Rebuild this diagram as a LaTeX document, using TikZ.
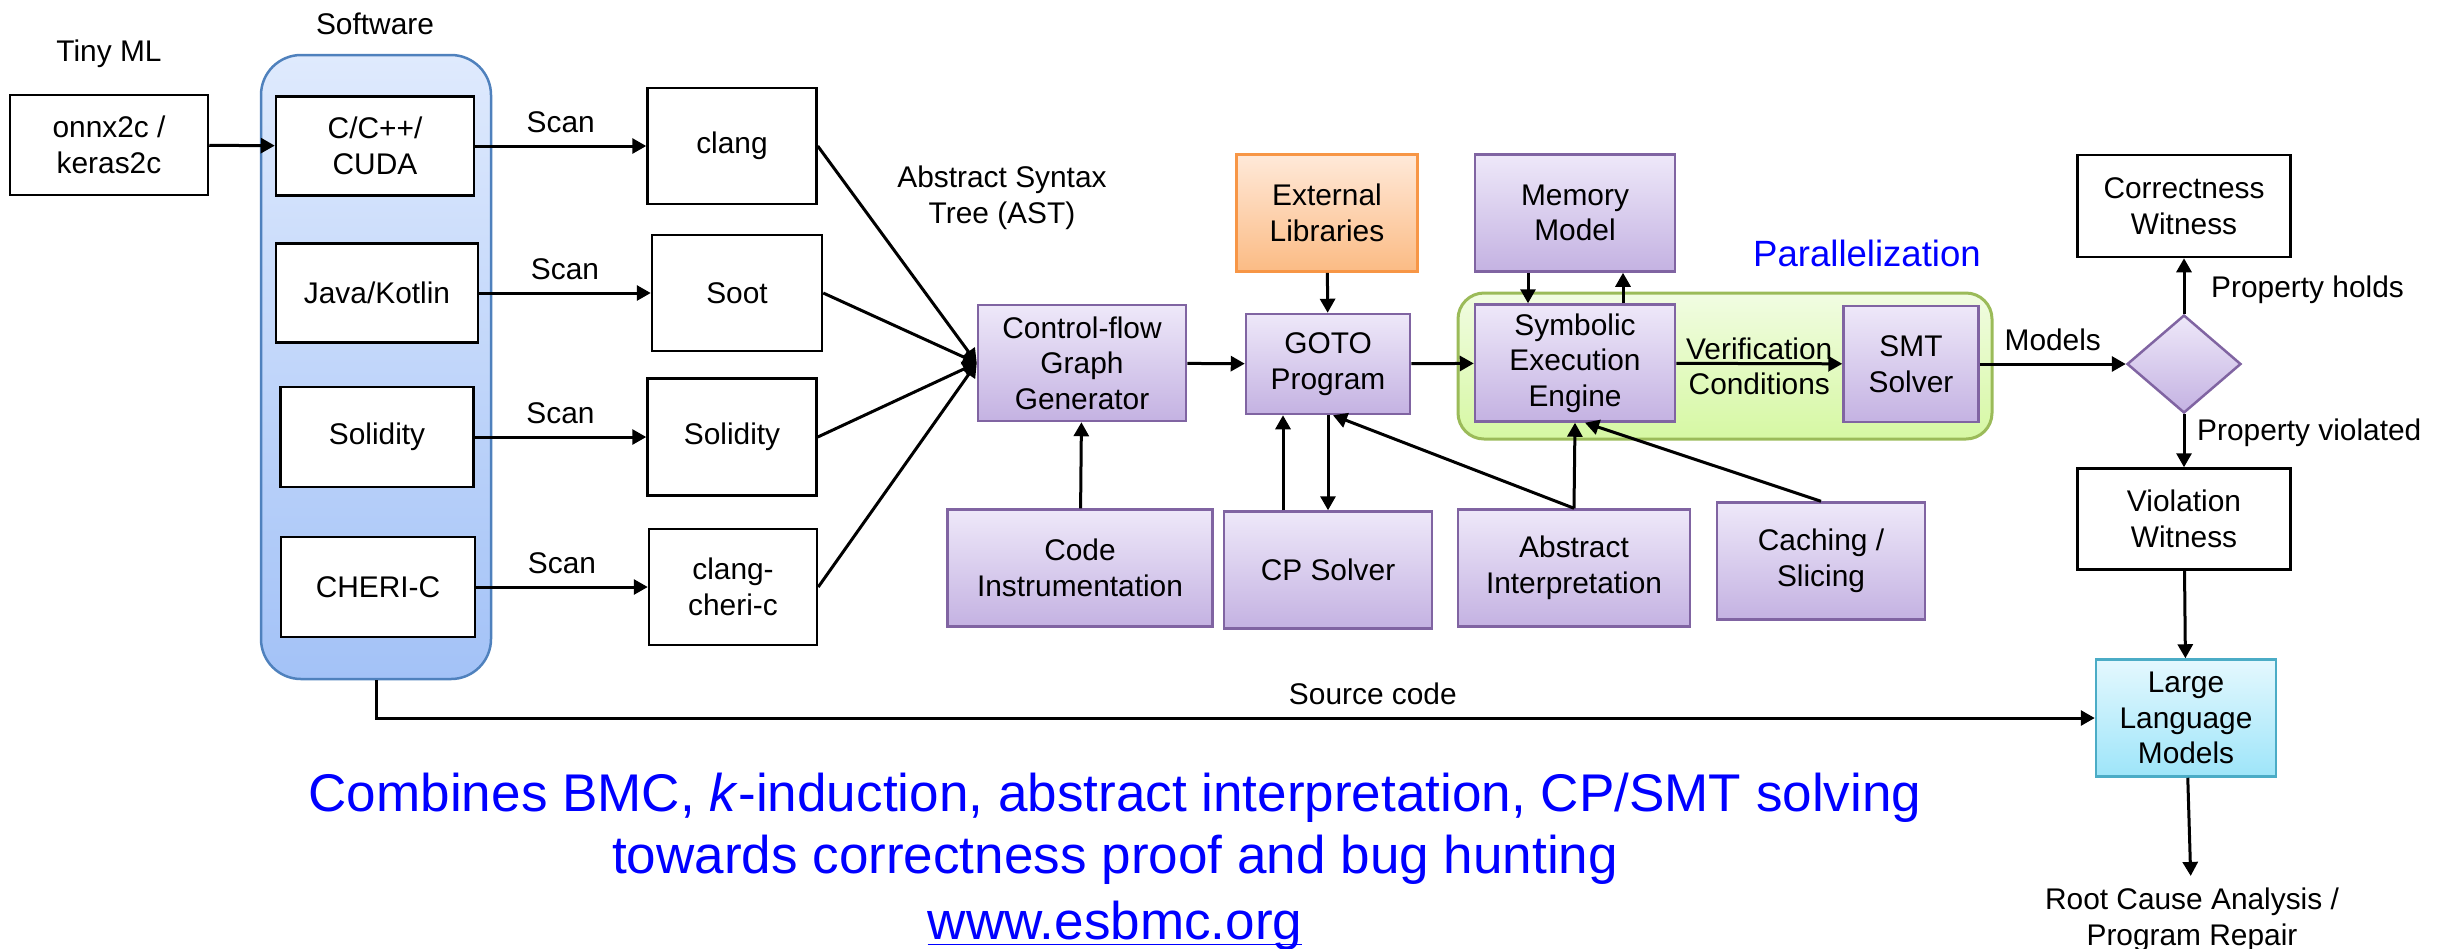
\documentclass[tikz,border=0pt]{standalone}
\usepackage{fontspec}
\setmainfont{Liberation Sans}
\usetikzlibrary{arrows.meta,shapes.geometric}

\definecolor{purpletop}{RGB}{238,232,249}
\definecolor{purplebot}{RGB}{196,178,226}
\definecolor{purpleedge}{RGB}{128,100,162}
\definecolor{orangetop}{RGB}{255,233,217}
\definecolor{orangebot}{RGB}{251,187,132}
\definecolor{orangeedge}{RGB}{247,150,70}
\definecolor{greentop}{RGB}{241,252,226}
\definecolor{greenbot}{RGB}{214,248,163}
\definecolor{greenedge}{RGB}{155,187,89}
\definecolor{bluetop}{RGB}{223,234,253}
\definecolor{bluebot}{RGB}{163,194,247}
\definecolor{blueedge}{RGB}{79,129,189}
\definecolor{cyantop}{RGB}{228,248,254}
\definecolor{cyanbot}{RGB}{158,229,249}
\definecolor{cyanedge}{RGB}{75,172,198}

\tikzset{
	every node/.style={font=\fontsize{8.5}{10.1}\selectfont, align=center},
	plainbox/.style={draw=black, line width=0.25mm, fill=white, inner sep=0pt},
	purplebox/.style={draw=purpleedge, line width=0.25mm, top color=purpletop, bottom color=purplebot, inner sep=0pt},
	orangebox/.style={draw=orangeedge, line width=0.25mm, top color=orangetop, bottom color=orangebot, inner sep=0pt},
	cyanbox/.style={draw=cyanedge, line width=0.25mm, top color=cyantop, bottom color=cyanbot, inner sep=0pt},
	softbox/.style={draw=blueedge, line width=0.25mm, top color=bluetop, bottom color=bluebot, rounded corners=4mm},
	greenbox/.style={draw=greenedge, line width=0.3mm, top color=greentop, bottom color=greenbot, rounded corners=2.6mm},
	flow/.style={-{Triangle[length=1.4mm,width=1.5mm]}, line width=0.3mm},
	bluetext/.style={text=blue}
}

\begin{document}
\begin{tikzpicture}[x=0.1mm,y=-0.1mm]
				\useasboundingbox (0,0) rectangle (2448,948);
				
				% inputs
				\node[softbox, minimum width=23mm, minimum height=62.4mm] (software) at (376,367) {};
				\node (softlabel) at (375,24) {Software};
				\node (tinylabel) at (109,54) {Tiny ML};
				\node[plainbox, minimum width=19.8mm, minimum height=10mm] (onnx) at (109,145) {onnx2c /\\keras2c};
				\node[plainbox, minimum width=19.8mm, minimum height=9.9mm] (cpp) at (375,146) {C/C++/\\CUDA};
				\node[plainbox, minimum width=20.2mm, minimum height=9.9mm] (java) at (377,293) {Java/Kotlin};
				\node[plainbox, minimum width=19.3mm, minimum height=10mm] (sol) at (377,437) {Solidity};
				\node[plainbox, minimum width=19.4mm, minimum height=10mm] (cheri) at (378,587) {CHERI-C};
				
				% front-ends
				\node[plainbox, minimum width=16.9mm, minimum height=11.6mm] (clang) at (732,146) {clang};
				\node[plainbox, minimum width=17mm, minimum height=11.6mm] (soot) at (737,293) {Soot};
				\node[plainbox, minimum width=16.9mm, minimum height=11.7mm] (solc) at (732,437) {Solidity};
				\node[plainbox, minimum width=16.8mm, minimum height=11.6mm] (clangcheri) at (733,587) {clang-\\cheri-c};
				\node (ast) at (1002,198) {Abstract Syntax\\Tree (AST)};
				
				% core
				\node[greenbox, minimum width=53.4mm, minimum height=14.6mm] (parbox) at (1725,366) {};
				\node[bluetext, font=\fontsize{10.4}{12}\selectfont] (par) at (1867,253) {Parallelization};
				\node[purplebox, minimum width=20.8mm, minimum height=11.6mm] (cfg) at (1082,363) {Control-flow\\Graph\\Generator};
				\node[purplebox, minimum width=16.4mm, minimum height=10mm] (goto) at (1328,364) {GOTO\\Program};
				\node[orangebox, minimum width=18.1mm, minimum height=11.7mm] (extlib) at (1327,213) {External\\Libraries};
				\node[purplebox, minimum width=20mm, minimum height=11.7mm] (memory) at (1575,213) {Memory\\Model};
				\node[purplebox, minimum width=20mm, minimum height=11.7mm] (symex) at (1575,363) {Symbolic\\Execution\\Engine};
				\node[purplebox, minimum width=13.5mm, minimum height=11.6mm] (smt) at (1911,364) {SMT\\Solver};
				\node[purplebox, diamond, minimum width=11.4mm, minimum height=9.8mm] (check) at (2184,364) {};
				
				% helpers
				\node[purplebox, minimum width=26.5mm, minimum height=11.7mm] (instr) at (1080,568) {Code\\Instrumentation};
				\node[purplebox, minimum width=20.8mm, minimum height=11.7mm] (cpsolver) at (1328,570) {CP Solver};
				\node[purplebox, minimum width=23.2mm, minimum height=11.7mm] (absint) at (1574,568) {Abstract\\Interpretation};
				\node[purplebox, minimum width=20.8mm, minimum height=11.7mm] (caching) at (1821,561) {Caching /\\Slicing};
				
				% results
				\node[plainbox, minimum width=21.3mm, minimum height=10.2mm] (correct) at (2184,206) {Correctness\\Witness};
				\node[plainbox, minimum width=21.3mm, minimum height=10.1mm] (violation) at (2184,519) {Violation\\Witness};
				\node[cyanbox, minimum width=18mm, minimum height=11.7mm] (llm) at (2186,718) {Large\\Language\\Models};
				\node (repair) at (2192,920) {Root Cause Analysis /\\Program Repair};
				
				\node[bluetext, font=\fontsize{15.1}{17.6}\selectfont] (summary) at (1115,860) {Combines BMC, \textit{k}-induction, abstract interpretation, CP/SMT solving\\towards correctness proof and bug hunting\\[1pt]\underline{www.esbmc.or\smash{g}}};
				
				% connectors
				\draw[flow] (onnx) -- (cpp);
				\draw[flow] (cpp) -- node[above] {Scan} (clang);
				\draw[flow] (java) -- node[above] {Scan} (soot);
				\draw[flow] (sol) -- node[above] {Scan} (solc);
				\draw[flow] (cheri) -- node[above] {Scan} (clangcheri);
				\foreach \fe in {clang,soot,solc,clangcheri}
					\draw[flow] (\fe.east) -- (cfg.west);
				\draw[flow] (cfg) -- (goto);
				\draw[flow] (extlib) -- (goto);
				\draw[flow] (goto) -- (symex);
				\draw[flow] ([xshift=-4.7mm]memory.south) -- ([xshift=-4.7mm]symex.north);
				\draw[flow] ([xshift=4.8mm]symex.north) -- ([xshift=4.8mm]memory.south);
				\draw[flow] (symex) -- node[yshift=-0.3mm] {Verification\\Conditions} (smt);
				\draw[flow] (smt) -- node[above] {Models} (check);
				\draw[flow] (check) -- node[right, pos=0.43, xshift=1.4mm] {Property holds} (correct);
				\draw[flow] (check) -- node[right, pos=0.35] {Property violated} (violation);
				\draw[flow] (violation) -- (llm);
				\draw[flow] (llm) -- (repair);
				\draw[flow] (instr) -- (cfg);
				\draw[flow] ([xshift=-4.5mm]cpsolver.north) -- ([xshift=-4.5mm]goto.south);
				\draw[flow] (goto.south) -- (cpsolver.north);
				\draw[flow] (absint.north) -- ([xshift=0.5mm]goto.south);
				\draw[flow] (absint.north) -- (symex.south);
				\draw[flow] (caching.north) -- ([xshift=1mm]symex.south);
				\draw[flow] (software.south) |- node[pos=0.79, above] {Source code} (llm.west);
			\end{tikzpicture}
\end{document}
